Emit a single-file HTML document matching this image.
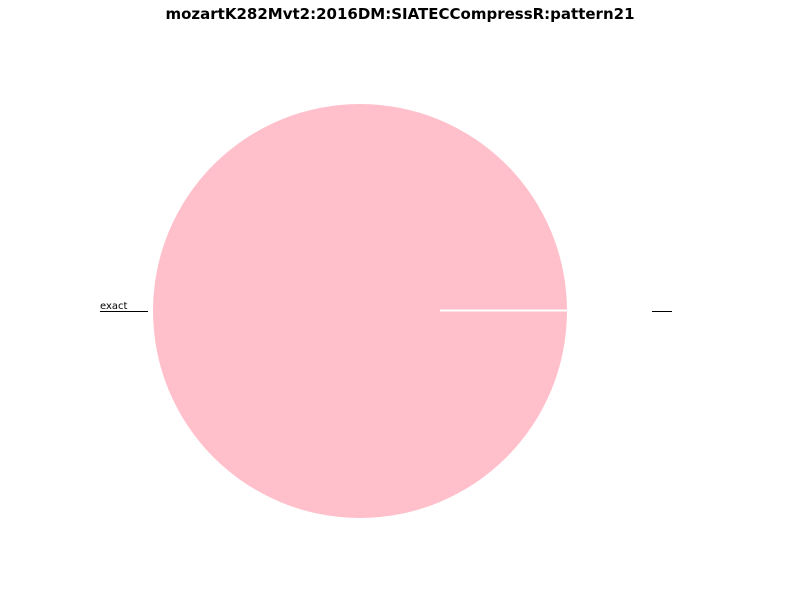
<!DOCTYPE html>
<html><head><meta charset="utf-8"><style>
body{margin:0;background:#fff}
svg{display:block;font-family:"Liberation Sans","DejaVu Sans",sans-serif}
</style></head><body>
<svg id="chart" width="800" height="600">
<text x="400" y="19" text-anchor="middle" font-size="15" font-weight="bold" font-family="DejaVu Sans, Liberation Sans, sans-serif">mozartK282Mvt2:2016DM:SIATECCompressR:pattern21</text>
</svg>
<script>
const labels = ["exact", ""];
const values = [1, 0];
const colors = ["#ffc0cb", "#ffc0cb"];
const svg = document.getElementById('chart');
const NS = 'http://www.w3.org/2000/svg';
const cx = 360, cy = 311, r = 207;
const total = values.reduce((a,b)=>a+b,0);
let ang = 0;
values.forEach((v,i)=>{
  const frac = total ? v/total : 0;
  const a0 = ang, a1 = ang + frac*2*Math.PI;
  ang = a1;
  let el;
  if (frac >= 0.9999) {
    el = document.createElementNS(NS,'circle');
    el.setAttribute('cx',cx); el.setAttribute('cy',cy); el.setAttribute('r',r);
  } else {
    el = document.createElementNS(NS,'path');
    const x0=cx+r*Math.cos(a0), y0=cy-r*Math.sin(a0), x1=cx+r*Math.cos(a1), y1=cy-r*Math.sin(a1);
    el.setAttribute('d',`M${cx},${cy}L${x0},${y0}A${r},${r} 0 ${frac>0.5?1:0} 0 ${x1},${y1}Z`);
  }
  el.setAttribute('fill',colors[i]);
  
  
  svg.appendChild(el);
  const lx0 = i===0 ? 100 : 652, lx1 = i===0 ? 148 : 672;
  const ln = document.createElementNS(NS,'line');
  ln.setAttribute('x1',lx0); ln.setAttribute('x2',lx1); ln.setAttribute('y1',311.5); ln.setAttribute('y2',311.5);
  ln.setAttribute('stroke','#000'); ln.setAttribute('stroke-width','1');
  
  
  svg.appendChild(ln);
  if (labels[i]) {
    const t = document.createElementNS(NS,'text');
    t.setAttribute('x',lx0); t.setAttribute('y',309); t.setAttribute('font-size','10');
    t.setAttribute('font-family','DejaVu Sans, Liberation Sans, sans-serif');
    t.textContent = labels[i];
    
    
    svg.appendChild(t);
  }
});
const edge = document.createElementNS(NS,'line');
edge.setAttribute('x1',440); edge.setAttribute('x2',cx+r); edge.setAttribute('y1',310.5); edge.setAttribute('y2',310.5);
edge.setAttribute('stroke','#fff'); edge.setAttribute('stroke-width','2');


svg.appendChild(edge);
</script>
</body></html>
